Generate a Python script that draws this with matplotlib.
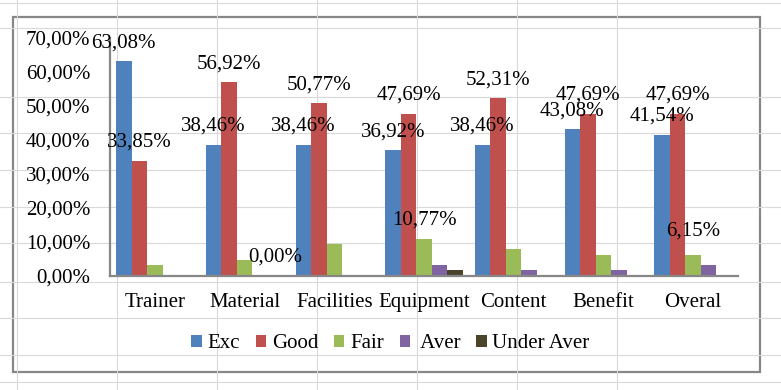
import matplotlib.pyplot as plt
import numpy as np
from matplotlib.patches import Rectangle
from matplotlib.ticker import FuncFormatter

plt.rcParams['font.family'] = ['Liberation Serif', 'DejaVu Serif']

# Data (fractions)
categories = ['Trainer', 'Material', 'Facilities', 'Equipment', 'Content', 'Benefit', 'Overal']
series = ['Exc', 'Good', 'Fair', ' Aver', 'Under Aver']
exc = [0.6308, 0.3846, 0.3846, 0.3692, 0.3846, 0.4308, 0.4154]
good = [0.3385, 0.5692, 0.5077, 0.4769, 0.5231, 0.4769, 0.4769]
fair = [0.0308, 0.0462, 0.0923, 0.1077, 0.0769, 0.0615, 0.0615]
aver = [0.0, 0.0, 0.0, 0.0308, 0.0154, 0.0154, 0.0308]
under = [0.0, 0.0, 0.0, 0.0154, 0.0, 0.0, 0.0]
all_values = [exc, good, fair, aver, under]

colors = ['#4F81BD', '#C0504D', '#9BBB59', '#8064A2', '#4A452A']
# which bars carry a data label: series index -> category indices
labelled = {0: range(7), 1: range(7), 2: [3, 6], 4: [1]}
# labels nudged further up (points)
extra_lift = {(2, 6): 4}

def pct(v):
    return ('%.2f%%' % (v * 100)).replace('.', ',')

W, H = 781, 390
fig = plt.figure(figsize=(W / 100, H / 100), dpi=100)

# spreadsheet background
bg = fig.add_axes([0, 0, 1, 1], zorder=0)
bg.set_xlim(0, W)
bg.set_ylim(H, 0)
bg.axis('off')
for y in [2.7, 28, 97, 133, 170, 207, 243, 282, 318, 355, 382]:
    bg.axhline(y, color='#d9d9d9', lw=0.8)
for x in [16.7, 116.7, 216.7, 316.7, 416.7, 516.7, 616.7]:
    bg.axvline(x, color='#d9d9d9', lw=0.8)
bg.add_patch(Rectangle((13, 17), 747, 355, facecolor='white', edgecolor='#878787', lw=1.6))

ax = fig.add_axes([110 / W, 1 - 275.5 / H, 628 / W, (275.5 - 38) / H], zorder=1)
ax.patch.set_alpha(0)

x = np.arange(len(categories))
w = 0.1728
for i, (vals, name) in enumerate(zip(all_values, series)):
    bars = ax.bar(x + (i - 2) * w, vals, w, color=colors[i], label=name)
    if i in labelled:
        for j in labelled[i]:
            b = bars[j]
            ax.annotate(pct(vals[j]), (b.get_x() + b.get_width() / 2, b.get_height()),
                        xytext=(0, 13.3 + extra_lift.get((i, j), 0)), textcoords='offset points',
                        ha='center', va='center', fontsize=15, color='black')

ax.set_xlim(-0.5, len(categories) - 0.5)
ax.set_ylim(0, 0.70)
ax.set_yticks(np.arange(0, 0.71, 0.10))
ax.yaxis.set_major_formatter(FuncFormatter(lambda v, p: pct(v)))
ax.set_xticks(x)
ax.set_xticklabels(categories)
ax.tick_params(axis='both', length=0, labelsize=15)
ax.tick_params(axis='y', pad=14)
ax.tick_params(axis='x', pad=12.5)
for s in ['top', 'right']:
    ax.spines[s].set_visible(False)
for s in ['left', 'bottom']:
    ax.spines[s].set_color('#878787')
    ax.spines[s].set_linewidth(1.6)

fig.legend(loc='center', bbox_to_anchor=(0.5, 1 - 344 / H), ncol=5, frameon=False,
           handlelength=0.5, handleheight=0.5, handletextpad=0.28, columnspacing=0.75,
           borderpad=0, fontsize=15)

fig.savefig('out.png', dpi=100)
